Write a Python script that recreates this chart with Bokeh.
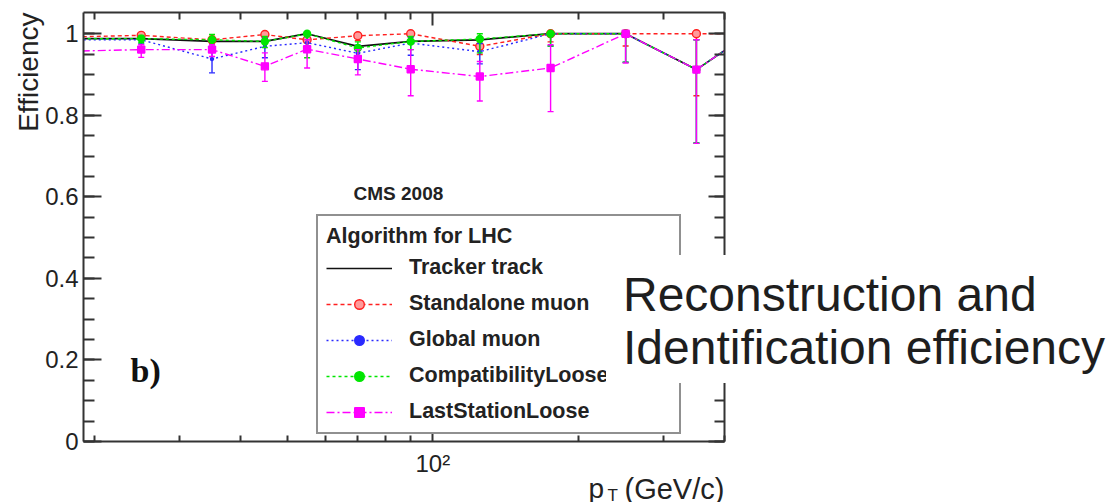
import numpy as np
from math import pi, log10
from bokeh.plotting import figure
from bokeh.models import (FixedTicker, LinearAxis, CustomJSTickFormatter, Label,
                          Legend, LegendItem, Range1d, BoxAnnotation)
from bokeh.embed import file_html
from bokeh.resources import INLINE

# ---- data ----
pt = [15, 25, 35, 45, 55, 70, 90, 125, 175, 250, 350, 450]
tracker_eff = [0.988, 0.988, 0.981, 0.981, 1.000, 0.969, 0.981, 0.985, 1.000, 1.000, 0.912, 1.000]
standalone_eff = [0.990, 0.996, 0.985, 0.998, 0.985, 0.995, 1.000, 0.969, 1.000, 1.000, 1.000, 1.000]
standalone_lo = [0.008, 0.008, 0.010, 0.010, 0.015, 0.012, 0.015, 0.020, 0.020, 0.030, 0.152, 0.050]
standalone_hi = [0.005, 0.004, 0.008, 0.002, 0.010, 0.005, 0.000, 0.015, 0.000, 0.000, 0.000, 0.000]
global_eff = [0.985, 0.985, 0.938, 0.969, 0.978, 0.952, 0.977, 0.956, 1.000, 1.000, 0.912, 1.000]
global_lo = [0.010, 0.010, 0.034, 0.028, 0.020, 0.040, 0.030, 0.030, 0.030, 0.070, 0.180, 0.050]
global_hi = [0.008, 0.008, 0.030, 0.020, 0.015, 0.020, 0.015, 0.020, 0.000, 0.000, 0.073, 0.000]
compat_eff = [0.987, 0.988, 0.985, 0.981, 1.000, 0.965, 0.981, 0.987, 1.000, 1.000, 0.912, 1.000]
compat_lo = [0.010, 0.010, 0.012, 0.015, 0.059, 0.020, 0.020, 0.034, 0.030, 0.070, 0.180, 0.050]
compat_hi = [0.008, 0.008, 0.013, 0.012, 0.000, 0.015, 0.012, 0.013, 0.000, 0.000, 0.073, 0.000]
last_eff = [0.955, 0.961, 0.961, 0.920, 0.962, 0.938, 0.913, 0.895, 0.916, 1.000, 0.912, 1.000]
last_lo = [0.015, 0.019, 0.017, 0.037, 0.046, 0.039, 0.065, 0.060, 0.107, 0.072, 0.181, 0.050]
last_hi = [0.012, 0.012, 0.012, 0.033, 0.023, 0.023, 0.048, 0.037, 0.057, 0.000, 0.073, 0.000]

x_major = [100]
x_minor = [20, 30, 40, 50, 60, 70, 80, 90, 200, 300, 400]
y_major = [0, 0.2, 0.4, 0.6, 0.8, 1.0]
y_minor = [round(0.05 * i, 2) for i in range(21)]
X_LO, X_HI = 19, 400
Y_LO, Y_HI = 0.0, 1.052

FONT = "Liberation Sans"
TXT = "#222222"
AX = "#333333"

# ---- layout: the frame fills the canvas; the axes box sits inside it ----
W, H = 1108, 502
BOX_L, BOX_R, BOX_T, BOX_B = 83, 724, 12, 441   # canvas px of the axes box
dec = (BOX_R - BOX_L) / log10(X_HI / X_LO)
x_start = 10 ** (log10(X_LO) - BOX_L / dec)
x_end = 10 ** (log10(X_HI) + (W - BOX_R) / dec)
ppu = (BOX_B - BOX_T) / (Y_HI - Y_LO)
y_start = Y_LO - (H - BOX_B) / ppu
y_end = Y_HI + BOX_T / ppu


def sx(px):  # canvas px -> screen units from frame left
    return px


def sy(py):  # canvas px (from top) -> screen units from frame bottom
    return H - py


p = figure(width=W, height=H, x_axis_type="log",
           x_range=Range1d(x_start, x_end), y_range=Range1d(y_start, y_end),
           output_backend="svg", toolbar_location=None, title=None,
           min_border_left=0, min_border_right=0, min_border_top=0, min_border_bottom=0)
p.xgrid.visible = False
p.ygrid.visible = False
p.outline_line_color = None
p.background_fill_color = "white"
p.border_fill_color = "white"


def style_axis(ax, major_in, minor_in, show_labels):
    ax.axis_line_color = AX
    ax.axis_line_width = 2
    ax.major_tick_line_color = AX
    ax.minor_tick_line_color = AX
    ax.major_tick_line_width = 2
    ax.minor_tick_line_width = 2
    ax.major_tick_in = major_in
    ax.major_tick_out = 0
    ax.minor_tick_in = minor_in
    ax.minor_tick_out = 0
    ax.major_label_text_font = FONT
    ax.major_label_text_color = TXT
    if not show_labels:
        ax.major_label_text_font_size = "0px"
        ax.major_label_standoff = 0
        ax.formatter = CustomJSTickFormatter(code="return '';")


xa = p.xaxis[0]
xa.ticker = FixedTicker(ticks=x_major, minor_ticks=x_minor)
xa.formatter = CustomJSTickFormatter(code="return tick == 100 ? '10\u00b2' : '';")
xa.fixed_location = Y_LO
xa.bounds = (X_LO, X_HI)
style_axis(xa, 10, 6, True)
xa.major_label_text_font_size = "24px"
xa.major_label_standoff = 8

ya = p.yaxis[0]
ya.ticker = FixedTicker(ticks=y_major, minor_ticks=y_minor)
ya.formatter = CustomJSTickFormatter(code="return String(+tick.toFixed(2));")
ya.fixed_location = X_LO
ya.bounds = (Y_LO, Y_HI)
style_axis(ya, 18, 11, True)
ya.major_label_text_font_size = "24px"
ya.major_label_standoff = 5

top = LinearAxis(ticker=FixedTicker(ticks=x_major, minor_ticks=x_minor),
                 fixed_location=Y_HI, bounds=(X_LO, X_HI))
style_axis(top, 13, 7, False)
p.add_layout(top, "above")
right = LinearAxis(ticker=FixedTicker(ticks=y_major, minor_ticks=y_minor),
                   fixed_location=X_HI, bounds=(Y_LO, Y_HI))
style_axis(right, 16, 10, False)
p.add_layout(right, "right")


def series(y, lo, hi, color, dash, marker, size, fill, lw=1.4):
    rs = []
    rs.append(p.line(pt, y, line_color=color, line_width=lw, line_dash=dash, level="underlay"))
    if lo is not None:
        x = np.array(pt, dtype=float)
        yy = np.array(y)
        l = np.array(lo)
        h = np.array(hi)
        p.segment(x0=x, y0=yy - l, x1=x, y1=yy + h, line_color=color, line_width=1.4,
                  level="underlay")
        m = l > 0
        p.scatter(x=x[m], y=(yy - l)[m], marker="dash", size=6, line_color=color,
                  line_width=1.4, level="underlay")
        m = h > 0
        p.scatter(x=x[m], y=(yy + h)[m], marker="dash", size=6, line_color=color,
                  line_width=1.4, level="underlay")
    if marker is not None:
        rs.append(p.scatter(pt, y, marker=marker, size=size, line_color=color,
                            fill_color=fill, line_width=1.4, level="underlay"))
    return rs


r_trk = series(tracker_eff, None, None, "#111111", "solid", None, 0, None, lw=1.7)
r_sa = series(standalone_eff, standalone_lo, standalone_hi, "#ff2020", "4 3", "circle", 8, "#ff9a9a")
r_gl = series(global_eff, global_lo, global_hi, "#2a2aff", "2 3", "circle", 3, "#2a2aff")
r_cp = series(compat_eff, compat_lo, compat_hi, "#00e600", "3 3", "circle", 7, "#00e600")
r_ls = series(last_eff, last_lo, last_hi, "#ff00ff", "8 3 2 3", "square", 7, "#ff00ff")

# white masks outside the axes box (data are clipped at the box edges)
for kw in (dict(right=X_LO), dict(left=X_HI)):
    p.add_layout(BoxAnnotation(fill_color="white", fill_alpha=1, line_color=None,
                               level="glyph", **kw))

legend = Legend(items=[
    LegendItem(label="Tracker track", renderers=r_trk),
    LegendItem(label="Standalone muon", renderers=r_sa),
    LegendItem(label="Global muon", renderers=r_gl),
    LegendItem(label="CompatibilityLoose", renderers=r_cp),
    LegendItem(label="LastStationLoose", renderers=r_ls),
], location=(sx(316), sy(434)), margin=0, level="underlay")
legend.title = "Algorithm for LHC"
legend.title_text_font = FONT
legend.title_text_font_style = "bold"
legend.title_text_font_size = "21.5px"
legend.title_text_color = TXT
legend.title_standoff = 6
legend.label_text_font = FONT
legend.label_text_font_style = "bold"
legend.label_text_font_size = "21.5px"
legend.label_text_color = TXT
legend.padding = 8
legend.spacing = 11
legend.glyph_width = 66
legend.glyph_height = 24
legend.label_height = 24
legend.label_standoff = 17
legend.label_width = 262
legend.border_line_color = "#222222"
legend.border_line_width = 2
legend.background_fill_color = "white"
legend.background_fill_alpha = 1
p.add_layout(legend)

# texts on the chart
p.add_layout(Label(x=sx(353), y=sy(193), x_units="screen", y_units="screen", text="CMS 2008",
                   text_font=FONT, text_font_style="bold", text_font_size="19px",
                   text_color=TXT, text_baseline="middle"))
p.add_layout(Label(x=sx(130), y=sy(370), x_units="screen", y_units="screen", text="b)",
                   text_font="Liberation Serif", text_font_style="bold", text_font_size="34px",
                   text_color="#111111", text_baseline="alphabetic"))
p.add_layout(Label(x=sx(12), y=sy(12), x_units="screen", y_units="screen", text="Efficiency",
                   angle=pi / 2, text_align="right", text_baseline="top",
                   text_font=FONT, text_font_size="28px", text_color=TXT))
p.add_layout(Label(x=sx(588), y=sy(488), x_units="screen", y_units="screen", text="p",
                   text_font=FONT, text_font_size="28px", text_color=TXT, text_baseline="alphabetic"))
p.add_layout(Label(x=sx(607), y=sy(495), x_units="screen", y_units="screen", text="T",
                   text_font=FONT, text_font_size="17px", text_color=TXT, text_baseline="alphabetic"))
p.add_layout(Label(x=sx(624), y=sy(488), x_units="screen", y_units="screen", text="(GeV/c)",
                   text_font=FONT, text_font_size="29px", text_color=TXT, text_baseline="alphabetic"))

# overlay caption (a text box pasted over the chart): one white-boxed line each
caption_lines = ["Reconstruction and", "Identification efficiency"]
caption_boxes = [(255, dict(left=17, right=70, top=12, bottom=0)),
                 (320, dict(left=17, right=0, top=0, bottom=8))]
try:
    from bokeh.models import HTMLLabel as CapLabel
    cap_extra = {}
except Exception:
    CapLabel = Label
    cap_extra = dict(level="overlay")

for line, (ytop, pad) in zip(caption_lines, caption_boxes):
    kw = dict(x=sx(606), y=sy(ytop), x_units="screen", y_units="screen", text=line,
              text_font=FONT, text_font_size="48px", text_color="#1e1e1e",
              text_align="left", text_baseline="top",
              background_fill_color="white", background_fill_alpha=1, **cap_extra)
    try:
        lab = CapLabel(**kw)
    except Exception:
        kw.pop("level", None)
        lab = Label(level="overlay", **kw)
    try:
        lab.padding = pad
    except Exception:
        lab.padding = (pad["left"], pad["right"], pad["top"], pad["bottom"])
    p.add_layout(lab)

open("out.html", "w").write(file_html(p, INLINE))
